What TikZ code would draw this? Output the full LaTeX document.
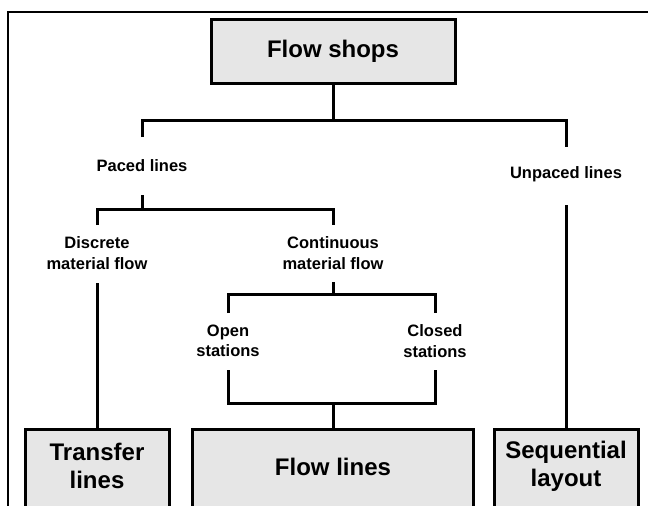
\documentclass[tikz,border=0pt]{standalone}
\usepackage{fontspec}
\setmainfont{Liberation Sans}
\definecolor{boxgray}{RGB}{230,230,230}
\begin{document}
\begin{tikzpicture}[x=1pt,y=-1pt,
  box/.style={draw, line width=3pt, fill=boxgray, inner sep=0pt},
  wire/.style={line width=3pt},
  lbl/.style={font=\fontsize{16.5}{20.5}\selectfont\bfseries, align=center, inner sep=0pt},
  big/.style={font=\fontsize{24}{28}\selectfont\bfseries, align=center, inner sep=0pt}]
  \useasboundingbox (0,0) rectangle (648,506);
  \clip (0,0) rectangle (648,506);
  % outer frame
  \draw[line width=2.5pt] (660,12) -- (8,12) -- (8,520);

  % top box
  \node[box, minimum width=244pt, minimum height=64pt] (fs) at (333,51) {};
  \node[big] (fstext) at (333,51) {Flow shops};

  % second level labels
  \node[lbl] (paced) at (142,166) {Paced lines};
  \node[lbl] (unpaced) at (566,174) {Unpaced lines};
  \node[lbl] (discrete) at (97,253) {Discrete\\material flow};
  \node[lbl] (cont) at (333,253) {Continuous\\material flow};
  \node[lbl] (open) at (228,341) {Open\\stations};
  \node[lbl] (closed) at (435,341) {Closed\\stations};

  % bottom boxes
  \node[box, minimum width=144pt, minimum height=102pt, anchor=north] (tl) at (97,428) {};
  \node[box, minimum width=281pt, minimum height=102pt, anchor=north] (fl) at (333,428) {};
  \node[box, minimum width=144pt, minimum height=102pt, anchor=north] (sl) at (566,428) {};
  \node[big] (tltext) at (97,466) {Transfer\\lines};
  \node[big] (fltext) at (333,467) {Flow lines};
  \node[big] (sltext) at (566,466) {Sequential\\layout};

  % connector end points
  \coordinate (forkA) at (333,120);
  \coordinate (pacedin) at (142,137);
  \coordinate (unpacedin) at (566,147);
  \coordinate (pacedout) at (142,195);
  \coordinate (forkB) at (142,209);
  \coordinate (discretein) at (97,225);
  \coordinate (contin) at (333,225);
  \coordinate (discreteout) at (97,283);
  \coordinate (unpacedout) at (566,205);
  \coordinate (contout) at (333,282);
  \coordinate (forkC) at (333,294);
  \coordinate (openin) at (228,313);
  \coordinate (closedin) at (435,313);
  \coordinate (openout) at (228,370);
  \coordinate (closedout) at (435,370);
  \coordinate (forkD) at (333,403);

  % tree connectors
  \draw[wire] (fs.south) -- (forkA);
  \draw[wire] (pacedin) |- (forkA) -| (unpacedin);
  \draw[wire] (pacedout) -- (forkB);
  \draw[wire] (discretein) |- (forkB) -| (contin);
  \draw[wire] (contout) -- (forkC);
  \draw[wire] (openin) |- (forkC) -| (closedin);
  \draw[wire] (openout) |- (forkD) -| (closedout);
  \draw[wire] (forkD) -- (fl.north);
  \draw[wire] (discreteout) -- (tl.north);
  \draw[wire] (unpacedout) -- (sl.north);
\end{tikzpicture}
\end{document}
